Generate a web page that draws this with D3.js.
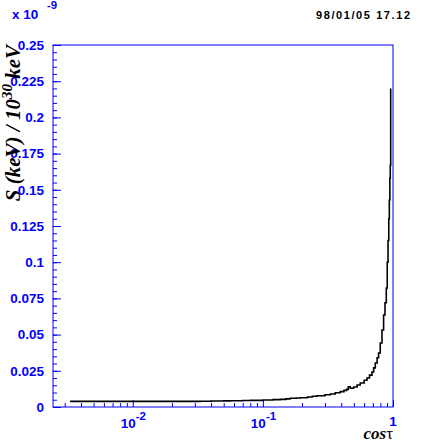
<!DOCTYPE html>
<html><head><meta charset="utf-8">
<script src="https://cdn.jsdelivr.net/npm/d3@7"></script>
<style>body{margin:0;background:#fff}svg{display:block}</style>
</head><body>
<script>
// ---- data (values in units of 1e-9) ----
const cosTau = [0.0033, 0.01, 0.02, 0.033, 0.04, 0.05, 0.056, 0.07, 0.08, 0.1, 0.12, 0.136, 0.15, 0.162, 0.18, 0.194, 0.22, 0.24, 0.26, 0.3, 0.33, 0.36, 0.393, 0.42, 0.44, 0.453, 0.47, 0.498, 0.53, 0.56, 0.6, 0.631, 0.66, 0.689, 0.71, 0.731, 0.755, 0.775, 0.798, 0.823, 0.847, 0.868, 0.888, 0.903, 0.916, 0.928, 0.937, 0.946, 0.953, 0.96];
const sValue = [0.0039, 0.0039, 0.0039, 0.0040, 0.0041, 0.0042, 0.0043, 0.0045, 0.0046, 0.0048, 0.0051, 0.0053, 0.0056, 0.0060, 0.0062, 0.0064, 0.0069, 0.0074, 0.0078, 0.0085, 0.0090, 0.0098, 0.0106, 0.0115, 0.0122, 0.0140, 0.0130, 0.0138, 0.0152, 0.0166, 0.0185, 0.0200, 0.0220, 0.0242, 0.0270, 0.0304, 0.0340, 0.0373, 0.0442, 0.0532, 0.0635, 0.0720, 0.0822, 0.1000, 0.1150, 0.1300, 0.1430, 0.1580, 0.1670, 0.2200];
const yTicks = [0, 0.025, 0.05, 0.075, 0.1, 0.125, 0.15, 0.175, 0.2, 0.225, 0.25];
const yTickLabels = ["0", "0.025", "0.05", "0.075", "0.1", "0.125", "0.15", "0.175", "0.2", "0.225", "0.25"];
const xDecades = [0.01, 0.1, 1];
const xDecadeExp = ["-2", "-1", ""];
const dateText = "98/01/05  17.12";

const W = 427, H = 442;
const L = 53, R = 393, T = 45, B = 407;
const blue = "#0000ff";
const svg = d3.select("body").append("svg").attr("width", W).attr("height", H)
  .attr("font-family", "'Liberation Sans', Arial, sans-serif");
svg.append("rect").attr("width", W).attr("height", H).attr("fill", "#fff");

const x = d3.scaleLog().domain([Math.pow(10, -2.613), 1]).range([L, R]);
const y = d3.scaleLinear().domain([0, 0.25]).range([B, T]);

// minor y ticks
const yMinor = d3.range(0, 0.2501, 0.005);
svg.append("g").attr("transform", `translate(${L},0)`)
  .call(d3.axisLeft(y).tickValues(yMinor).tickSize(-4).tickFormat(""))
  .call(g => { g.select(".domain").remove(); g.selectAll("line").attr("stroke", blue); });
// major y ticks
svg.append("g").attr("transform", `translate(${L},0)`)
  .call(d3.axisLeft(y).tickValues(yTicks).tickSize(-8).tickPadding(9)
    .tickFormat((d, i) => yTickLabels[i]))
  .call(g => {
    g.select(".domain").remove();
    g.selectAll("line").attr("stroke", blue);
    g.selectAll("text").attr("fill", blue).attr("font-size", 13.5).attr("font-weight", "bold")
      .attr("font-family", "'Liberation Sans', Arial, sans-serif");
  });

// x ticks (log)
const xMinor = [];
for (let e = -3; e < 0; e++) for (let k = 2; k <= 9; k++) {
  const v = k * Math.pow(10, e);
  if (v >= x.domain()[0] && v <= 1) xMinor.push(v);
}
svg.append("g").attr("transform", `translate(0,${B})`)
  .call(d3.axisBottom(x).tickValues(xMinor).tickSize(-4).tickFormat(""))
  .call(g => { g.select(".domain").remove(); g.selectAll("line").attr("stroke", blue); });
svg.append("g").attr("transform", `translate(0,${B})`)
  .call(d3.axisBottom(x).tickValues(xDecades).tickSize(-7).tickFormat(""))
  .call(g => { g.select(".domain").remove(); g.selectAll("line").attr("stroke", blue); });

// x decade labels
xDecades.forEach((d, i) => {
  const px = x(d);
  if (xDecadeExp[i] === "") {
    svg.append("text").attr("x", px).attr("y", 426).attr("text-anchor", "middle")
      .attr("fill", blue).attr("font-size", 13.5).attr("font-weight", "bold").text("1");
  } else {
    svg.append("text").attr("x", px + 3).attr("y", 428).attr("text-anchor", "end")
      .attr("fill", blue).attr("font-size", 13.5).attr("font-weight", "bold").text("10");
    svg.append("text").attr("x", px + 3).attr("y", 420).attr("text-anchor", "start")
      .attr("fill", blue).attr("font-size", 11.5).attr("font-weight", "bold").text(xDecadeExp[i]);
  }
});

// frame
svg.append("rect").attr("x", L).attr("y", T).attr("width", R - L).attr("height", B - T)
  .attr("fill", "none").attr("stroke", blue).attr("stroke-width", 1);

// data line
const pts = cosTau.map((c, i) => [c, sValue[i]]);
svg.append("path").datum(pts)
  .attr("d", d3.line().x(d => x(d[0])).y(d => y(d[1])).curve(d3.curveStepAfter))
  .attr("fill", "none").attr("stroke", "#000").attr("stroke-width", 1.6);

// multiplier x 10^-9
svg.append("text").attr("x", 12).attr("y", 19).attr("fill", blue).attr("font-size", 13.5)
  .attr("font-weight", "bold").text("x 10");
svg.append("text").attr("x", 47).attr("y", 9).attr("fill", blue).attr("font-size", 11.5)
  .attr("font-weight", "bold").text("-9");

// date
svg.append("text").attr("x", 316).attr("y", 19).attr("fill", "#000").attr("font-size", 11)
  .attr("font-weight", "bold").attr("textLength", 94).text(dateText);

// x title
const xt = svg.append("text").attr("x", 393).attr("y", 439).attr("text-anchor", "end")
  .attr("font-family", "'Liberation Serif', 'Times New Roman', serif").attr("font-size", 17)
  .attr("font-style", "italic").attr("font-weight", "bold").attr("fill", "#000");
xt.append("tspan").text("cos");
xt.append("tspan").attr("font-style", "normal").attr("font-weight", "normal").text("τ");

// y title
const yt = svg.append("text").attr("transform", "translate(20,45) rotate(-90)")
  .attr("text-anchor", "end")
  .attr("font-family", "'Liberation Serif', 'Times New Roman', serif").attr("font-size", 21)
  .attr("font-style", "italic").attr("font-weight", "bold").attr("fill", "#000");
yt.append("tspan").text("S (keV) / 10");
yt.append("tspan").attr("dy", -8).attr("font-size", 15).text("30");
yt.append("tspan").attr("dy", 8).text(" keV");
</script>
</body></html>
